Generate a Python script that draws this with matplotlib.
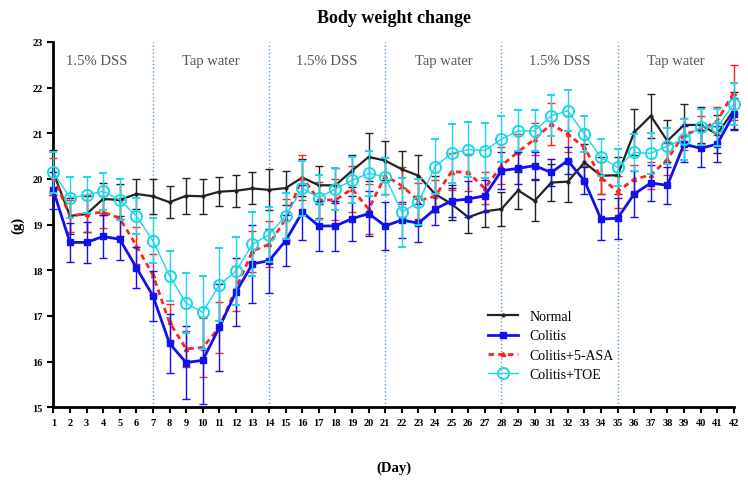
import numpy as np
import matplotlib
matplotlib.use("Agg")
import matplotlib.pyplot as plt
from matplotlib.lines import Line2D

plt.rcParams['font.family'] = ['Liberation Serif', 'DejaVu Serif']

days = list(range(1, 43))

normal = [20.14, 19.19, 19.23, 19.56, 19.54, 19.67, 19.62, 19.49, 19.63, 19.62,
          19.72, 19.74, 19.79, 19.76, 19.80, 20.03, 19.86, 19.86, 20.18, 20.48,
          20.40, 20.21, 20.07, 19.67, 19.45, 19.16, 19.29, 19.34, 19.75, 19.52,
          19.92, 19.94, 20.36, 20.07, 20.08, 21.02, 21.38, 20.83, 21.18, 21.18,
          20.98, 21.50]
normal_sd = [0.50, 0.40, 0.40, 0.35, 0.35, 0.32, 0.38, 0.35, 0.40, 0.38,
             0.32, 0.35, 0.35, 0.45, 0.38, 0.40, 0.42, 0.38, 0.35, 0.52,
             0.42, 0.40, 0.45, 0.40, 0.35, 0.35, 0.35, 0.38, 0.40, 0.45,
             0.40, 0.45, 0.40, 0.40, 0.40, 0.50, 0.48, 0.45, 0.45, 0.40,
             0.42, 0.40]

colitis = [19.75, 18.61, 18.61, 18.74, 18.68, 18.06, 17.44, 16.40, 15.98, 16.03,
           16.75, 17.52, 18.14, 18.21, 18.65, 19.27, 18.97, 18.97, 19.13, 19.24,
           18.97, 19.10, 19.03, 19.34, 19.52, 19.56, 19.63, 20.18, 20.23, 20.29,
           20.14, 20.40, 19.96, 19.12, 19.14, 19.67, 19.91, 19.86, 20.76, 20.67,
           20.76, 21.42]
colitis_sd = [0.40, 0.42, 0.45, 0.48, 0.45, 0.45, 0.55, 0.65, 0.80, 0.95,
              0.95, 0.75, 0.85, 0.70, 0.55, 0.60, 0.55, 0.55, 0.50, 0.50,
              0.52, 0.40, 0.42, 0.35, 0.35, 0.40, 0.35, 0.40, 0.35, 0.30,
              0.30, 0.30, 0.30, 0.45, 0.45, 0.50, 0.40, 0.40, 0.40, 0.40,
              0.40, 0.35]

asa = [20.05, 19.19, 19.24, 19.27, 19.14, 18.54, 17.90, 16.86, 16.28, 16.31,
       16.75, 17.60, 18.42, 18.57, 19.12, 20.03, 19.54, 19.54, 19.78, 19.34,
       20.07, 19.85, 19.52, 19.62, 20.16, 20.14, 19.79, 20.29, 20.59, 20.87,
       21.20, 20.98, 20.69, 20.03, 19.72, 20.00, 20.08, 20.43, 20.98, 21.07,
       21.27, 21.89]
asa_sd = [0.40, 0.35, 0.40, 0.35, 0.40, 0.40, 0.45, 0.40, 0.40, 0.65,
          0.55, 0.50, 0.45, 0.50, 0.45, 0.50, 0.40, 0.45, 0.50, 0.55,
          0.40, 0.40, 0.40, 0.35, 0.40, 0.40, 0.35, 0.40, 0.40, 0.35,
          0.45, 0.40, 0.40, 0.35, 0.35, 0.30, 0.30, 0.35, 0.35, 0.30,
          0.30, 0.60]

toe = [20.14, 19.59, 19.65, 19.73, 19.54, 19.19, 18.65, 17.88, 17.28, 17.08,
       17.68, 17.98, 18.57, 18.78, 19.19, 19.79, 19.59, 19.78, 19.97, 20.12,
       20.05, 19.27, 19.49, 20.27, 20.56, 20.64, 20.62, 20.87, 21.05, 21.05,
       21.38, 21.49, 20.98, 20.47, 20.25, 20.58, 20.56, 20.72, 20.87, 21.14,
       21.13, 21.64]
toe_sd = [0.45, 0.45, 0.40, 0.40, 0.45, 0.40, 0.50, 0.55, 0.65, 0.80,
          0.80, 0.75, 0.70, 0.60, 0.50, 0.60, 0.50, 0.45, 0.50, 0.50,
          0.40, 0.75, 0.50, 0.60, 0.65, 0.60, 0.60, 0.50, 0.45, 0.45,
          0.45, 0.45, 0.40, 0.40, 0.40, 0.40, 0.45, 0.40, 0.45, 0.40,
          0.40, 0.45]

phase_days = [7, 14, 21, 28, 35]
phase_labels = ['1.5% DSS', 'Tap water', '1.5% DSS', 'Tap water', '1.5% DSS', 'Tap water']
phase_centers = [3.6, 10.5, 17.5, 24.5, 31.5, 38.5]

fig = plt.figure(figsize=(7.48, 4.81), dpi=100)
ax = fig.add_axes([0.0713, 0.151, 0.9097, 0.76])

for d in phase_days:
    ax.axvline(d, color='#5b9bd5', linestyle=':', linewidth=1.0, zorder=1)

for c, lab in zip(phase_centers, phase_labels):
    ax.text(c, 22.6, lab, ha='center', va='center', fontsize=10.5, color='#555555')

series = [
    (normal, normal_sd, 'Normal',
     dict(color='#222222', linewidth=1.6, marker='.', markersize=4), 3),
    (colitis, colitis_sd, 'Colitis',
     dict(color='#1010f0', linewidth=2.0, marker='s', markersize=4), 4),
    (asa, asa_sd, 'Colitis+5-ASA',
     dict(color='#ff2222', linewidth=2.0, linestyle=(0, (2, 1.5)), marker='^', markersize=3), 3),
    (toe, toe_sd, 'Colitis+TOE',
     dict(color='#18d8e8', linewidth=1.0, marker='o', markersize=8,
          markerfacecolor='none', markeredgewidth=1.4), 5),
]

handles = []
for vals, sd, name, style, z in series:
    ax.errorbar(days, vals, yerr=sd, capsize=3, elinewidth=1.0, clip_on=False,
                zorder=z, **style)
    handles.append(Line2D([], [], label=name, **style))

ax.set_xlim(1, 42)
ax.set_ylim(15, 23)
ax.set_xticks(days)
ax.set_yticks(range(15, 24))
ax.tick_params(axis='both', direction='out', length=4, width=1.5, labelsize=7.5)
for lbl in ax.get_xticklabels() + ax.get_yticklabels():
    lbl.set_fontweight('bold')
ax.spines['top'].set_visible(False)
ax.spines['right'].set_visible(False)
ax.spines['left'].set_linewidth(2)
ax.spines['bottom'].set_linewidth(2)

ax.set_title('Body weight change', fontsize=13, fontweight='bold', pad=14)
ax.set_xlabel('(Day)', fontsize=10.5, fontweight='bold', labelpad=24)
ax.set_ylabel('(g)', fontsize=10.5, fontweight='bold', labelpad=6)

ax.legend(handles=handles, loc='upper left', bbox_to_anchor=(0.62, 0.30), frameon=False,
          fontsize=10, handlelength=2.2, labelspacing=0.45)

fig.savefig('out.png', dpi=100)
